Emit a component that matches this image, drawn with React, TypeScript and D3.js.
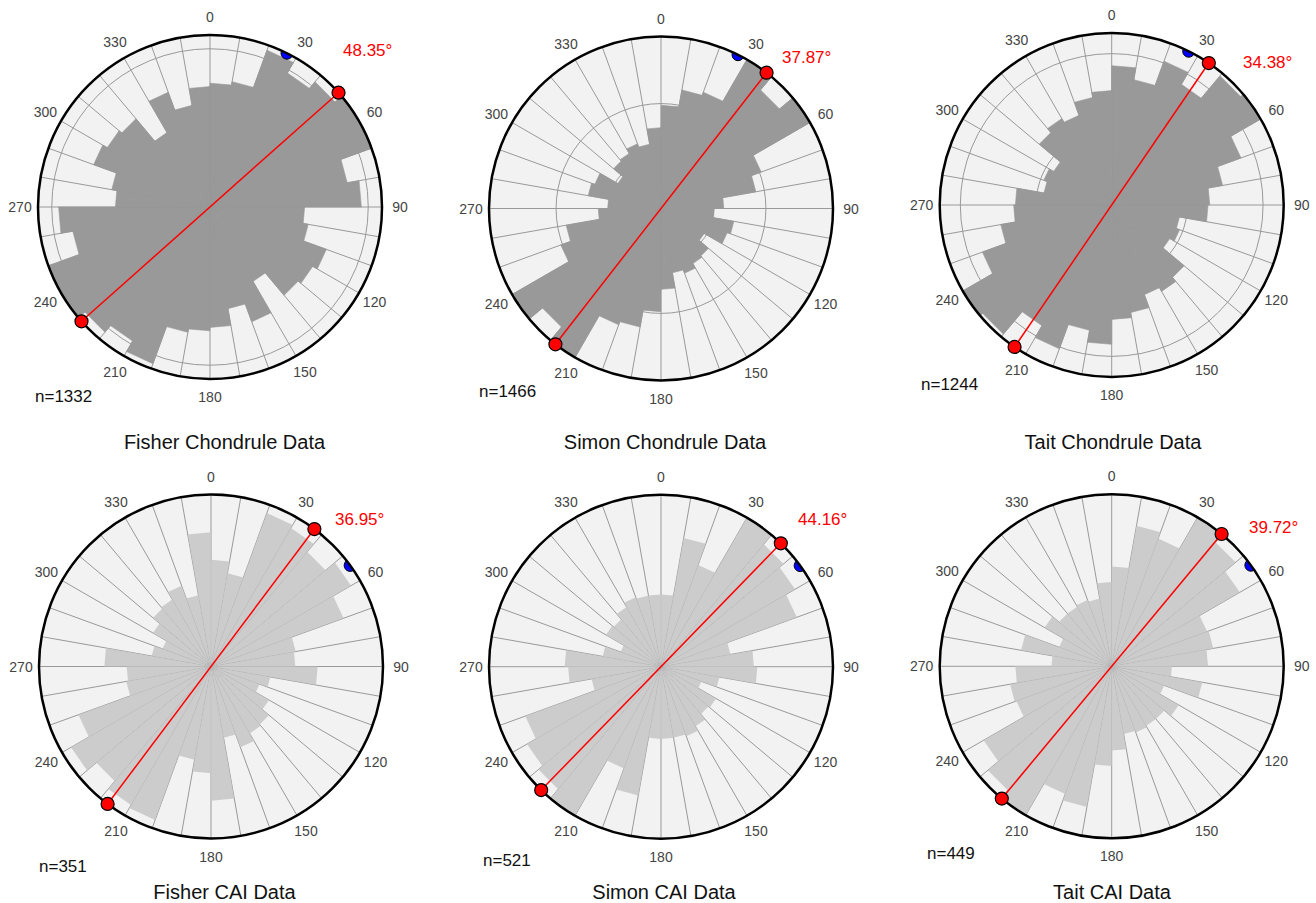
import * as d3 from "d3";

// orientation bins (axial data, each bin is drawn at θ and θ+180)
const BIN_STARTS = [0, 10, 20, 30, 40, 50, 60, 70, 80, 90, 100, 110, 120, 130, 140, 150, 160, 170];
const BIN_WIDTH = 10;

// bar lengths as a fraction of the radial axis maximum (values > 1 run off the plot)
const FISHER_CHONDRULE = [0.72, 0.74, 0.97, 0.9, 0.95, 1.1, 1.1, 0.81, 0.88, 0.55, 0.58, 0.72, 0.69, 0.67, 0.5, 0.71, 0.6, 0.7];
const SIMON_CHONDRULE = [0.6, 0.7, 0.72, 1.1, 0.9, 1.1, 0.62, 0.56, 0.365, 0.31, 0.43, 0.41, 0.29, 0.36, 0.37, 0.4, 0.38, 0.47];
const TAIT_CHONDRULE = [0.81, 0.74, 0.89, 0.81, 0.98, 1.1, 0.8, 0.655, 0.57, 0.56, 0.4, 0.42, 0.39, 0.55, 0.58, 0.555, 0.635, 0.665];
const FISHER_CAI = [0.62, 0.55, 0.95, 0.93, 0.87, 0.94, 0.82, 0.5, 0.49, 0.62, 0.35, 0.3, 0.39, 0.44, 0.45, 0.5, 0.42, 0.78];
const SIMON_CAI = [0.42, 0.76, 0.63, 1.05, 0.93, 0.9, 0.84, 0.41, 0.54, 0.56, 0.345, 0.25, 0.37, 0.36, 0.4, 0.43, 0.42, 0.42];
const TAIT_CAI = [0.58, 0.83, 0.79, 1.05, 0.94, 0.86, 0.59, 0.6, 0.56, 0.35, 0.535, 0.325, 0.45, 0.4, 0.4, 0.41, 0.4, 0.49];

const TITLES = [
  "Fisher Chondrule Data", "Simon Chondrule Data", "Tait Chondrule Data",
  "Fisher CAI Data", "Simon CAI Data", "Tait CAI Data",
];
const SERIES = [FISHER_CHONDRULE, SIMON_CHONDRULE, TAIT_CHONDRULE, FISHER_CAI, SIMON_CAI, TAIT_CAI];
const COUNTS = [1332, 1466, 1244, 351, 521, 449];
const MEAN_ANGLES = [48.35, 37.87, 34.38, 36.95, 44.16, 39.72];
const REF_ANGLES = [26.6, 26.6, 26.6, 54, 54, 54];
const RINGS = [[0.46, 0.92], [0.305, 0.61], [0.44, 0.88], [], [], []];
const ANGLE_TICKS = [0, 30, 60, 90, 120, 150, 180, 210, 240, 270, 300, 330];

// page layout of each panel
const LAYOUT = [
  { cx: 210, cy: 207, titleX: 224.5, titleY: 449, nX: 35, nY: 402, mX: 343, mY: 56 },
  { cx: 661, cy: 208.5, titleX: 665, titleY: 449, nX: 479, nY: 397, mX: 782, mY: 63 },
  { cx: 1111.7, cy: 205, titleX: 1113, titleY: 449, nX: 921, nY: 390, mX: 1243, mY: 68 },
  { cx: 211, cy: 666.5, titleX: 224.5, titleY: 899, nX: 39, nY: 872, mX: 335, mY: 525 },
  { cx: 661, cy: 666.7, titleX: 664, titleY: 899, nX: 483, nY: 866, mX: 798, mY: 525 },
  { cx: 1111.7, cy: 666.3, titleX: 1112, titleY: 899, nX: 927, nY: 859, mX: 1249, mY: 533 },
];

const R = 172;
const FONT = "'Liberation Sans', Arial, Helvetica, sans-serif";

interface RoseProps {
  idx: number;
}

function Rose({ idx }: RoseProps) {
  const lay = LAYOUT[idx];
  const values = SERIES[idx];
  const isCAI = idx >= 3;

  const angle = d3.scaleLinear().domain([0, 360]).range([0, 2 * Math.PI]);
  const radius = d3.scaleLinear().domain([0, 1]).range([0, R]);

  const bar = d3
    .lineRadial<[number, number]>()
    .angle((d) => angle(d[0]))
    .radius((d) => radius(d[1]))
    .curve(d3.curveLinearClosed);

  const px = (deg: number, r: number) => radius(r) * Math.sin(angle(deg));
  const py = (deg: number, r: number) => -radius(r) * Math.cos(angle(deg));

  const bars: { a0: number; v: number }[] = [];
  BIN_STARTS.forEach((s, i) => {
    bars.push({ a0: s, v: values[i] });
    bars.push({ a0: s + 180, v: values[i] });
  });

  const spokes = d3.range(0, 360, BIN_WIDTH);
  const clipId = `rose-clip-${idx}`;
  const mean = MEAN_ANGLES[idx];
  const ref = REF_ANGLES[idx];

  return (
    <g>
      <g transform={`translate(${lay.cx},${lay.cy})`}>
        <defs>
          <clipPath id={clipId}>
            <circle r={radius(1)} />
          </clipPath>
        </defs>
        <circle r={radius(1)} fill="#f2f2f2" />
        <g clipPath={`url(#${clipId})`}>
          {spokes.map((a) => (
            <line key={a} x1={0} y1={0} x2={px(a, 1)} y2={py(a, 1)} stroke="#999" strokeWidth={1} />
          ))}
          {RINGS[idx].map((r) => (
            <circle key={r} r={radius(r)} fill="none" stroke="#999" strokeWidth={1} />
          ))}
          {bars.map((b) => (
            <path
              key={b.a0}
              d={bar([[b.a0, 0], [b.a0, b.v], [b.a0 + BIN_WIDTH, b.v]]) ?? ""}
              fill={isCAI ? "rgb(200,200,200)" : "#999999"}
              fillOpacity={isCAI ? 0.91 : 1}
              stroke={isCAI ? "none" : "#999999"}
              strokeWidth={isCAI ? 0 : 0.6}
            />
          ))}
          <circle cx={px(ref, 1)} cy={py(ref, 1)} r={6} fill="#0000ff" stroke="#000" strokeWidth={1} />
        </g>
        <circle r={radius(1)} fill="none" stroke="#000" strokeWidth={2.5} />
        {ANGLE_TICKS.map((t) => (
          <text
            key={t}
            x={px(t, 1) * (R + 18) / R}
            y={py(t, 1) * (R + 18) / R}
            textAnchor="middle"
            dominantBaseline="central"
            fontSize={14}
            fill="#444"
          >
            {t}
          </text>
        ))}
        <line
          x1={px(mean, 1)}
          y1={py(mean, 1)}
          x2={px(mean + 180, 1)}
          y2={py(mean + 180, 1)}
          stroke="#ff0000"
          strokeWidth={1.5}
        />
        {[mean, mean + 180].map((a) => (
          <circle key={a} cx={px(a, 1)} cy={py(a, 1)} r={6.5} fill="#ff0000" stroke="#000" strokeWidth={1.2} />
        ))}
      </g>
      <text x={lay.mX} y={lay.mY} fontSize={17} fill="#ff0000">
        {`${mean.toFixed(2)}°`}
      </text>
      <text x={lay.nX} y={lay.nY} fontSize={17} fill="#111">
        {`n=${COUNTS[idx]}`}
      </text>
      <text x={lay.titleX} y={lay.titleY} fontSize={20} fill="#111" textAnchor="middle">
        {TITLES[idx]}
      </text>
    </g>
  );
}

export default function App() {
  return (
    <svg
      width={1316}
      height={903}
      style={{ position: "absolute", left: 0, top: 0, background: "#fff", fontFamily: FONT }}
    >
      <rect width={1316} height={903} fill="#fff" />
      {TITLES.map((_, i) => (
        <Rose key={i} idx={i} />
      ))}
    </svg>
  );
}
